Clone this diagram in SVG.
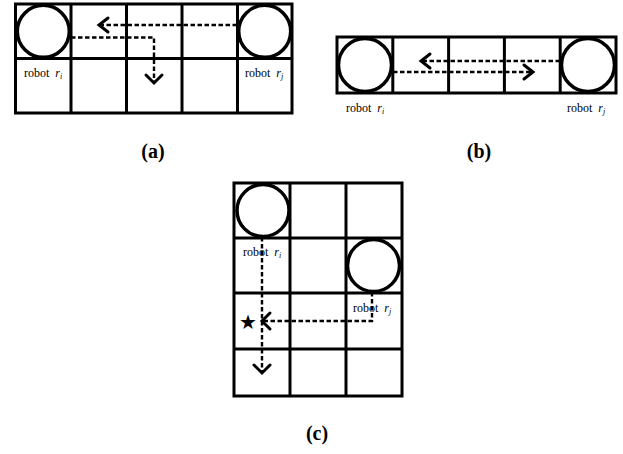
<svg xmlns="http://www.w3.org/2000/svg" width="623" height="454" viewBox="0 0 623 454">
<style>
.grid{fill:none;stroke:#000;stroke-width:3}
.robot{fill:#fff;stroke:#000;stroke-width:3.5}
.dash{fill:none;stroke:#000;stroke-width:2.4;stroke-dasharray:4.5 2.5}
.head{fill:none;stroke:#000;stroke-width:3;stroke-linecap:round;stroke-linejoin:miter}
.lbl{font-family:"Liberation Serif","Times New Roman",serif;font-size:12px;fill:#000}
.sub{font-style:italic}
.cap{font-family:"Liberation Serif","Times New Roman",serif;font-size:20px;font-weight:bold;fill:#000;text-anchor:middle}
</style>
<rect width="623" height="454" fill="#fff"/>

<!-- (a) -->
<g id="panel-a">
  <g id="grid-a" class="grid">
    <rect x="15.5" y="4" width="276.5" height="109"/>
    <line x1="71" y1="4" x2="71" y2="113"/>
    <line x1="126.5" y1="4" x2="126.5" y2="113"/>
    <line x1="182" y1="4" x2="182" y2="113"/>
    <line x1="237.5" y1="4" x2="237.5" y2="113"/>
    <line x1="15.5" y1="58.5" x2="292" y2="58.5"/>
  </g>
  <g id="a-robot-i"><circle class="robot" cx="43.3" cy="31.3" r="26"/>
    <text class="lbl" x="24" y="77">robot<tspan class="sub" dx="6">r</tspan><tspan class="sub" font-size="8" dy="2">i</tspan></text></g>
  <g id="a-robot-j"><circle class="robot" cx="264.7" cy="31.3" r="26"/>
    <text class="lbl" x="245" y="77">robot<tspan class="sub" dx="6">r</tspan><tspan class="sub" font-size="8" dy="2">j</tspan></text></g>
  <g id="a-connectors">
    <path class="dash" d="M237,25 H100"/>
    <polyline class="head" points="108,18 99,25 108,32"/>
    <path class="dash" d="M71,37.5 H154 V82"/>
    <polyline class="head" points="146,75 154,83 162,75"/>
  </g>
  <text class="cap" x="153" y="158">(a)</text>
</g>

<!-- (b) -->
<g id="panel-b">
  <g id="grid-b" class="grid">
    <rect x="337" y="37" width="279" height="56"/>
    <line x1="392.8" y1="37" x2="392.8" y2="93"/>
    <line x1="448.6" y1="37" x2="448.6" y2="93"/>
    <line x1="504.4" y1="37" x2="504.4" y2="93"/>
    <line x1="560.2" y1="37" x2="560.2" y2="93"/>
  </g>
  <g id="b-robot-i"><circle class="robot" cx="365" cy="65" r="26.5"/>
    <text class="lbl" x="346" y="112">robot<tspan class="sub" dx="6">r</tspan><tspan class="sub" font-size="8" dy="2">i</tspan></text></g>
  <g id="b-robot-j"><circle class="robot" cx="588" cy="65" r="26.5"/>
    <text class="lbl" x="567" y="112">robot<tspan class="sub" dx="6">r</tspan><tspan class="sub" font-size="8" dy="2">j</tspan></text></g>
  <g id="b-connectors">
    <path class="dash" d="M560,61 H421"/>
    <polyline class="head" points="430,54 421,61 430,68"/>
    <path class="dash" d="M393,72 H532"/>
    <polyline class="head" points="524,65 533,72 524,79"/>
  </g>
  <text class="cap" x="479" y="158">(b)</text>
</g>

<!-- (c) -->
<g id="panel-c">
  <g id="grid-c" class="grid">
    <rect x="234" y="183" width="168" height="213"/>
    <line x1="290" y1="183" x2="290" y2="396"/>
    <line x1="346" y1="183" x2="346" y2="396"/>
    <line x1="234" y1="238" x2="402" y2="238"/>
    <line x1="234" y1="293" x2="402" y2="293"/>
    <line x1="234" y1="349" x2="402" y2="349"/>
  </g>
  <g id="c-robot-i"><circle class="robot" cx="263" cy="210.5" r="26"/>
    <text class="lbl" x="243" y="256">robot<tspan class="sub" dx="6">r</tspan><tspan class="sub" font-size="8" dy="2">i</tspan></text></g>
  <g id="c-robot-j"><circle class="robot" cx="373.5" cy="265.5" r="26"/>
    <text class="lbl" x="353" y="312">robot<tspan class="sub" dx="6">r</tspan><tspan class="sub" font-size="8" dy="2">j</tspan></text></g>
  <g id="c-star"><text x="248" y="328.5" font-family="DejaVu Sans,sans-serif" font-size="20" text-anchor="middle">★</text></g>
  <g id="c-connectors">
    <path class="dash" d="M262,237 V372"/>
    <polyline class="head" points="254,365 262,373 270,365"/>
    <path class="dash" d="M372,292 V321 H263"/>
    <polyline class="head" points="270,313 262,321 270,329"/>
  </g>
  <text class="cap" x="317" y="440">(c)</text>
</g>
</svg>
